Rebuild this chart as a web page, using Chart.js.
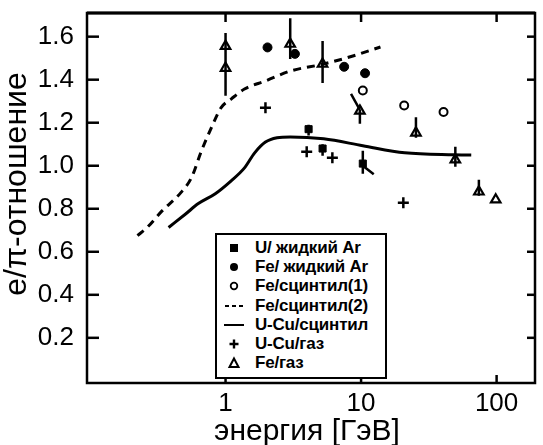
<!DOCTYPE html>
<html>
<head>
<meta charset="utf-8">
<script src="https://cdn.jsdelivr.net/npm/chart.js@4.4.1/dist/chart.umd.min.js"></script>
<style>
  html, body { margin: 0; padding: 0; background: #fff; }
  #wrap { position: relative; width: 543px; height: 445px; }
  #legend {
    position: absolute; left: 215px; top: 233px; width: 168px; height: 139px;
    border: 2px solid #000; background: #fff; padding-top: 3px; box-sizing: content-box;
    font-family: "Liberation Sans", Arial, sans-serif; font-weight: bold; font-size: 17px; color: #000;
  }
  .row { display: flex; align-items: center; height: 19.3px; white-space: nowrap; letter-spacing: -0.2px; }
  .row svg { width: 22px; height: 14px; margin-left: 6px; margin-right: 10px; flex: none; }
</style>
</head>
<body>
<div id="wrap">
  <canvas id="chart" width="543" height="445"></canvas>
  <div id="legend"></div>
</div>
<script>
// axis ranges and tick labels
const xTicks = [1, 10, 100];
const yTicks = [0.2, 0.4, 0.6, 0.8, 1.0, 1.2, 1.4, 1.6];
const xRange = [0.095, 192];
const yRange = [-0.01, 1.71];

// series labels
const labels = ['U/ жидкий Ar', 'Fe/ жидкий Ar', 'Fe/сцинтил(1)', 'Fe/сцинтил(2)', 'U-Cu/сцинтил', 'U-Cu/газ', 'Fe/газ'];

// U / liquid Ar (filled squares)
const uArX = [4.1, 5.2, 10.3];
const uArY = [1.17, 1.08, 1.01];
// Fe / liquid Ar (filled circles)
const feArX = [2.04, 3.25, 7.5, 10.7];
const feArY = [1.55, 1.52, 1.46, 1.43];
// Fe / scintillator (1) (open circles)
const feSc1X = [10.3, 20.8, 40.6];
const feSc1Y = [1.35, 1.28, 1.25];
// Fe / scintillator (2) (dashed curve)
const feSc2X = [0.224, 0.264, 0.34, 0.468, 0.56, 0.665, 0.785, 0.928, 1.1, 1.38, 1.97, 3.0, 5.3, 8.7, 13.9];
const feSc2Y = [0.675, 0.713, 0.79, 0.875, 0.944, 1.07, 1.176, 1.27, 1.31, 1.357, 1.394, 1.44, 1.473, 1.51, 1.552];
// U-Cu / scintillator (solid curve)
const uCuScX = [0.38, 0.51, 0.63, 0.84, 1.1, 1.38, 1.64, 1.97, 2.4, 3.0, 5.3, 10.3, 21, 48, 65];
const uCuScY = [0.713, 0.777, 0.824, 0.87, 0.93, 0.99, 1.06, 1.11, 1.13, 1.134, 1.125, 1.093, 1.06, 1.051, 1.05];
// U-Cu / gas (crosses)
const uCuGasX = [1.97, 3.97, 6.14, 20.5];
const uCuGasY = [1.27, 1.065, 1.037, 0.828];
// Fe / gas (open triangles)
const feGasX = [1.0, 1.0, 3.0, 5.2, 9.8, 25.4, 49.6, 74, 98.5];
const feGasY = [1.556, 1.454, 1.566, 1.473, 1.255, 1.153, 1.028, 0.879, 0.842];

// error bars: [x1, y1, x2, y2]
const errBars = [
  [1.0, 1.325, 1.0, 1.617],
  [3.0, 1.496, 3.0, 1.686],
  [5.2, 1.385, 5.2, 1.58],
  [8.43, 1.334, 9.8, 1.26],
  [9.8, 1.26, 9.8, 1.195],
  [25.4, 1.13, 25.4, 1.225],
  [49.6, 0.995, 49.6, 1.088],
  [74, 0.861, 74, 0.935],
  [4.1, 1.14, 4.1, 1.19],
  [5.2, 1.046, 5.2, 1.10],
  [10.3, 0.963, 10.3, 1.07],
  [10.3, 1.0, 12.4, 0.96]
];

const pts = (xs, ys) => xs.map((x, i) => ({ x: x, y: ys[i] }));

const errData = [];
errBars.forEach(b => {
  errData.push({ x: b[0], y: b[1] }, { x: b[2], y: b[3] }, { x: b[2], y: null });
});

const FONT = '"Liberation Sans", Arial, sans-serif';

const frame = {
  id: 'frame',
  afterDatasetsDraw(chart) {
    const { ctx, chartArea: { left, right, top, bottom }, scales: { x, y } } = chart;
    const line = (x1, y1, x2, y2) => { ctx.beginPath(); ctx.moveTo(x1, y1); ctx.lineTo(x2, y2); ctx.stroke(); };
    ctx.save();
    ctx.strokeStyle = '#000';
    ctx.lineWidth = 2.5;
    ctx.strokeRect(left, top, right - left, bottom - top);
    ctx.lineWidth = 3;
    line(left, top, right, top);
    ctx.lineWidth = 2.5;
    yTicks.forEach(v => {
      const py = y.getPixelForValue(v);
      line(left, py, left + 12, py);
      line(right - 8, py, right, py);
    });
    xTicks.forEach(v => {
      const px = x.getPixelForValue(v);
      line(px, bottom, px, bottom - 8);
      line(px, top, px, top + 9);
    });
    // axis titles
    ctx.fillStyle = '#000';
    ctx.font = '30px ' + FONT;
    ctx.textAlign = 'center';
    ctx.textBaseline = 'alphabetic';
    ctx.fillText('энергия [ГэВ]', 307, 440);
    ctx.translate(17, 184);
    ctx.rotate(-Math.PI / 2);
    ctx.font = '32px ' + FONT;
    ctx.textBaseline = 'middle';
    ctx.fillText('e/π-отношение', 0, 0);
    ctx.restore();
  }
};

new Chart(document.getElementById('chart').getContext('2d'), {
  type: 'scatter',
  data: {
    datasets: [
      { label: labels[3], type: 'line', data: pts(feSc2X, feSc2Y), borderColor: '#000', borderWidth: 3,
        borderDash: [8, 6], pointRadius: 0, cubicInterpolationMode: 'monotone', fill: false },
      { label: labels[4], type: 'line', data: pts(uCuScX, uCuScY), borderColor: '#000', borderWidth: 3,
        pointRadius: 0, cubicInterpolationMode: 'monotone', fill: false },
      { label: 'err', type: 'line', data: errData, borderColor: '#000', borderWidth: 2.5,
        pointRadius: 0, spanGaps: false, tension: 0, fill: false },
      { label: labels[0], data: pts(uArX, uArY), pointStyle: 'rect', pointRadius: 5,
        backgroundColor: '#000', borderColor: '#000' },
      { label: labels[1], data: pts(feArX, feArY), pointStyle: 'circle', pointRadius: 4.5,
        backgroundColor: '#000', borderColor: '#000' },
      { label: labels[2], data: pts(feSc1X, feSc1Y), pointStyle: 'circle', pointRadius: 4,
        backgroundColor: '#fff', borderColor: '#000', borderWidth: 2 },
      { label: labels[5], data: pts(uCuGasX, uCuGasY), pointStyle: 'cross', pointRadius: 5.5,
        borderColor: '#000', borderWidth: 2.5 },
      { label: labels[6], data: pts(feGasX, feGasY), pointStyle: 'triangle', pointRadius: 5.5,
        backgroundColor: '#fff', borderColor: '#000', borderWidth: 2.2 }
    ]
  },
  options: {
    responsive: false,
    animation: false,
    layout: { padding: { top: 13, right: 1, left: 0, bottom: 0 } },
    plugins: { legend: { display: false }, tooltip: { enabled: false } },
    scales: {
      x: {
        type: 'logarithmic', min: xRange[0], max: xRange[1],
        afterBuildTicks: s => { s.ticks = xTicks.map(v => ({ value: v })); },
        afterFit: s => { s.height = 62; s.paddingLeft = 0; s.paddingRight = 0; },
        grid: { display: false }, border: { display: false },
        ticks: { color: '#000', font: { family: FONT, size: 26 }, padding: -3,
                 autoSkip: false, maxRotation: 0, callback: v => String(v) }
      },
      y: {
        min: yRange[0], max: yRange[1],
        afterBuildTicks: s => { s.ticks = yTicks.map(v => ({ value: v })); },
        afterFit: s => { s.width = 87; s.paddingTop = 0; s.paddingBottom = 0; },
        grid: { display: false }, border: { display: false },
        ticks: { color: '#000', font: { family: FONT, size: 26 }, padding: 5,
                 callback: v => Number(v).toFixed(1) }
      }
    }
  },
  plugins: [frame]
});

// legend inside the plot
const legendSymbols = [
  '<rect x="7" y="3" width="8" height="8" fill="#000"/>',
  '<circle cx="11" cy="7" r="4" fill="#000"/>',
  '<circle cx="11" cy="7" r="3.3" fill="#fff" stroke="#000" stroke-width="1.8"/>',
  '<line x1="2" y1="7" x2="21" y2="7" stroke="#000" stroke-width="2" stroke-dasharray="4 3"/>',
  '<line x1="1" y1="7" x2="21" y2="7" stroke="#000" stroke-width="2"/>',
  '<path d="M11 2.5V11.5M6.5 7H15.5" stroke="#000" stroke-width="2.4"/>',
  '<path d="M11 2.5L15.5 11H6.5Z" fill="#fff" stroke="#000" stroke-width="2"/>'
];
const legendEl = document.getElementById('legend');
labels.forEach((name, i) => {
  const row = document.createElement('div');
  row.className = 'row';
  row.innerHTML = `<svg viewBox="0 0 22 14">${legendSymbols[i]}</svg><span>${name}</span>`;
  legendEl.appendChild(row);
});
</script>
</body>
</html>
